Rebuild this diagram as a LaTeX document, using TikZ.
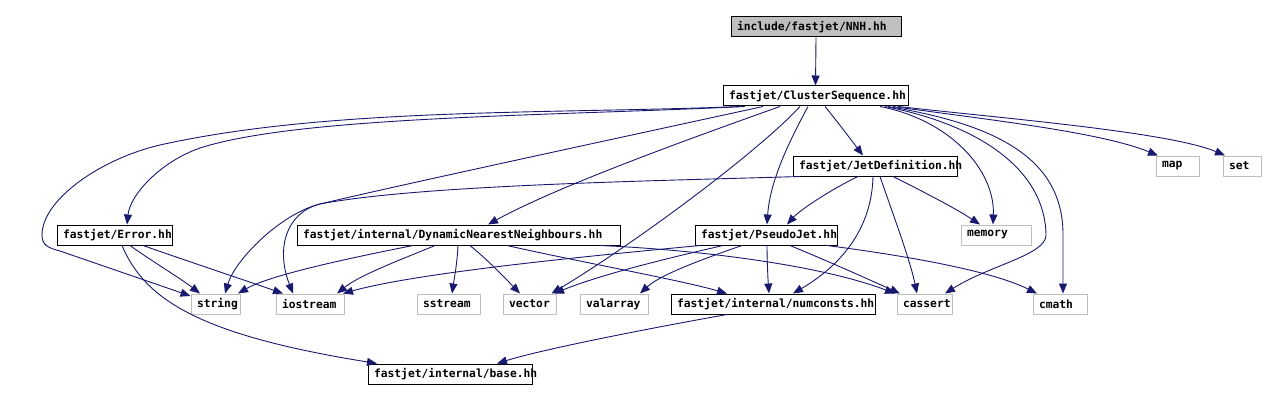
\documentclass[tikz,border=0pt]{standalone}
\usepackage{fontspec}
\newfontfamily\dxfont{DejaVu Sans Mono}
\usetikzlibrary{arrows.meta,calc}
\definecolor{edgeblue}{HTML}{191970}
\definecolor{lgray}{HTML}{BFBFBF}
\newcommand{\bx}[2]{\makebox[\dimexpr#1pt-12pt\relax][l]{#2}}
\begin{document}
\begin{tikzpicture}[x=1pt,y=-1pt,
  font=\dxfont\bfseries\fontsize{11.3}{13}\selectfont,
  box/.style={draw=black, line width=1pt, minimum height=20pt, inner xsep=6pt, inner ysep=0pt},
  gbox/.style={box, draw=lgray},
  rootbox/.style={box, fill=lgray},
  edge/.style={draw=edgeblue, line width=0.9pt, -{Triangle[length=10pt,width=8pt]}}]
\useasboundingbox (0,0) rectangle (1265,401);
% nodes
\node[rootbox] (nnh) at (816,27) {\bx{170}{include/fastjet/NNH.hh}};
\node[box] (cs) at (815.5,96) {\bx{185}{fastjet/ClusterSequence.hh}};
\node[box] (jd) at (875,166) {\bx{164}{fastjet/JetDefinition.hh}};
\node[gbox] (map) at (1177.5,166) {\bx{43}{map}};
\node[gbox] (set) at (1242,166) {\bx{38}{set}};
\node[box] (err) at (114.5,235) {\bx{115}{fastjet/Error.hh}};
\node[box] (dnn) at (458.5,235) {\bx{323}{fastjet/internal/DynamicNearestNeighbours.hh}};
\node[box] (pj) at (766,235) {\bx{142}{fastjet/PseudoJet.hh}};
\node[gbox] (mem) at (996,235) {\bx{70}{memory}};
\node[gbox] (str) at (215.5,304) {\bx{49}{string}};
\node[gbox] (ios) at (310,304) {\bx{68}{iostream}};
\node[gbox] (sst) at (448.5,304) {\bx{63}{sstream}};
\node[gbox] (vec) at (529.5,304) {\bx{53}{vector}};
\node[gbox] (val) at (614,304) {\bx{68}{valarray}};
\node[box] (num) at (773,304) {\bx{204}{fastjet/internal/numconsts.hh}};
\node[gbox] (cas) at (924.5,304) {\bx{55}{cassert}};
\node[gbox] (cmath) at (1060,304) {\bx{54}{cmath}};
\node[box] (base) at (450,374) {\bx{164}{fastjet/internal/base.hh}};
% edges from NNH
\draw[edge] (nnh.south) -- (cs.north);
% edges from ClusterSequence
\draw[edge] ($(cs.south)+(-75.5,0)$) .. controls (560,114) and (330,107) .. (160,145)
  .. controls (100,159) and (42,200) .. (42,235)
  .. controls (42,245) and (48,248) .. (60,251) -- ($(str.west)+(0,-8)$);
\draw[edge] ($(cs.south)+(-70.5,0)$) .. controls (550,116) and (300,116) .. (200,148)
  .. controls (160,162) and (130,195) .. ($(err.north)+(12.5,0)$);
\draw[edge] ($(cs.south)+(-52.5,0)$) .. controls (600,142) and (400,185) .. (320,204)
  .. controls (285,213) and (276,250) .. ($(ios.north)+(-17,0)$);
\draw[edge] ($(cs.south)+(-35.5,0)$) .. controls (700,135) and (560,185) .. ($(dnn.north)+(29.5,0)$);
\draw[edge] ($(cs.south)+(-15.5,0)$) .. controls (760,150) and (640,240) .. ($(vec.north)+(22,0)$);
\draw[edge] ($(cs.south)+(-7.5,0)$) .. controls (790,140) and (770,180) .. ($(pj.north)+(1,0)$);
\draw[edge] ($(cs.south)+(9.5,0)$) .. controls (840,125) and (855,145) .. ($(jd.north)+(-12,0)$);
\draw[edge] ($(cs.south)+(64.5,0)$) .. controls (950,120) and (995,170) .. ($(mem.north)+(-3,0)$);
\draw[edge] ($(cs.south)+(69.5,0)$) .. controls (980,125) and (1045,170) .. (1046,235)
  .. controls (1046,255) and (990,265) .. ($(cas.north)+(20.5,0)$);
\draw[edge] ($(cs.south)+(72.5,0)$) .. controls (1000,125) and (1062,160) .. (1063,233)
  -- ($(cmath.north)+(3,0)$);
\draw[edge] ($(cs.south)+(77.5,0)$) .. controls (990,120) and (1100,132) .. ($(map.north)+(-19.5,0)$);
\draw[edge] ($(cs.south)+(82.5,0)$) .. controls (1000,118) and (1170,132) .. ($(set.north)+(-17,0)$);
% edges from JetDefinition
\draw[edge] ($(jd.south)+(-75,0)$) .. controls (650,181) and (420,185) .. (320,204)
  .. controls (280,214) and (235,260) .. ($(str.north)+(9.5,0)$);
\draw[edge] ($(jd.south)+(-17,0)$) .. controls (830,190) and (800,210) .. ($(pj.north)+(21,0)$);
\draw[edge] ($(jd.south)+(-2,0)$) .. controls (872,220) and (850,260) .. ($(num.north)+(20,0)$);
\draw[edge] ($(jd.south)+(5,0)$) .. controls (895,220) and (910,260) .. ($(cas.north)+(-7.5,0)$);
\draw[edge] ($(jd.south)+(18,0)$) .. controls (920,190) and (955,208) .. ($(mem.north)+(-16,0)$);
% edges from Error
\draw[edge] ($(err.south)+(15.5,0)$) .. controls (150,260) and (180,278) .. ($(str.north)+(-15.5,0)$);
\draw[edge] ($(err.south)+(28.5,0)$) .. controls (190,262) and (250,282) .. ($(ios.north)+(-27,0)$);
\draw[edge] ($(err.south)+(7.5,0)$) .. controls (145,300) and (200,335) .. ($(base.north)+(-73,0)$);
% edges from DynamicNearestNeighbours
\draw[edge] ($(dnn.south)+(-45.5,0)$) .. controls (350,258) and (270,275) .. ($(str.north)+(22.5,0)$);
\draw[edge] ($(dnn.south)+(-23.5,0)$) .. controls (400,260) and (360,275) .. ($(ios.north)+(27,0)$);
\draw[edge] ($(dnn.south)+(-0.5,0)$) .. controls (457,265) and (454,280) .. ($(sst.north)+(3.5,0)$);
\draw[edge] ($(dnn.south)+(11.5,0)$) .. controls (490,262) and (505,278) .. ($(vec.north)+(-9.5,0)$);
\draw[edge] ($(dnn.south)+(48.5,0)$) .. controls (580,262) and (680,280) .. ($(num.north)+(-46,0)$);
\draw[edge] ($(dnn.south)+(141.5,0)$) .. controls (700,250) and (820,265) .. ($(cas.north)+(-29.5,0)$);
% edges from PseudoJet
\draw[edge] ($(pj.south)+(-66,0)$) .. controls (600,255) and (420,272) .. ($(ios.north)+(33,0)$);
\draw[edge] ($(pj.south)+(-43,0)$) .. controls (660,260) and (600,275) .. ($(vec.north)+(24.5,0)$);
\draw[edge] ($(pj.south)+(-24,0)$) .. controls (700,260) and (660,275) .. ($(val.north)+(26,0)$);
\draw[edge] ($(pj.south)+(1,0)$) .. controls (767,260) and (768,280) .. ($(num.north)+(-4,0)$);
\draw[edge] ($(pj.south)+(24,0)$) .. controls (830,262) and (870,280) .. ($(cas.north)+(-24.5,0)$);
\draw[edge] ($(pj.south)+(61,0)$) .. controls (900,255) and (990,270) .. ($(cmath.north)+(-23,0)$);
% numconsts -> base
\draw[edge] ($(num.south)+(-46,0)$) .. controls (640,330) and (540,350) .. ($(base.north)+(47,0)$);
\end{tikzpicture}
\end{document}
